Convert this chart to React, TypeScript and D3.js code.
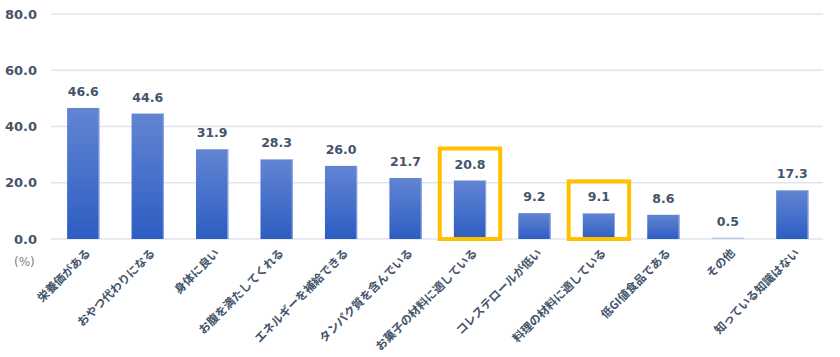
import React from "react";
import * as d3 from "d3";

const categories = [
  "栄養価がある",
  "おやつ代わりになる",
  "身体に良い",
  "お腹を満たしてくれる",
  "エネルギーを補給できる",
  "タンパク質を含んでいる",
  "お菓子の材料に適している",
  "コレステロールが低い",
  "料理の材料に適している",
  "低GI値食品である",
  "その他",
  "知っている知識はない",
];
const values = [46.6, 44.6, 31.9, 28.3, 26.0, 21.7, 20.8, 9.2, 9.1, 8.6, 0.5, 17.3];
const yTicks = [0, 20, 40, 60, 80];
const highlighted = ["お菓子の材料に適している", "料理の材料に適している"];

const W = 840;
const H = 357;
const M = { left: 51, right: 15, top: 14, bottom: 118 };

export default function App() {
  const x = d3
    .scaleBand<string>()
    .domain(categories)
    .range([M.left, W - M.right - 0.5])
    .paddingInner(0.5)
    .paddingOuter(0.25);
  const y = d3.scaleLinear().domain([0, 80]).range([H - M.bottom, M.top]);
  const font = "'Noto Sans CJK JP', 'Noto Sans', sans-serif";
  const textColor = "#44546A";
  const bw = x.bandwidth();
  const step = x.step();

  return (
    <svg
      width={W}
      height={H}
      style={{ position: "absolute", left: 0, top: 0, background: "#fff" }}
      fontFamily={font}
    >
      <defs>
        <linearGradient id="barGrad" x1="0" y1="0" x2="0" y2="1">
          <stop offset="0%" stopColor="#6285D3" />
          <stop offset="100%" stopColor="#2D5DC2" />
        </linearGradient>
      </defs>
      {yTicks.map((t) => (
        <g key={t}>
          <line
            x1={M.left}
            x2={W - M.right - 2}
            y1={y(t)}
            y2={y(t)}
            stroke="#E1E5EB"
            strokeWidth={1.5}
          />
          <text
            x={37}
            y={y(t)}
            dy="0.35em"
            textAnchor="end"
            fontSize={13}
            fontWeight={700}
            fill={textColor}
            fontFamily="Verdana, 'DejaVu Sans', sans-serif"
          >
            {t.toFixed(1)}
          </text>
        </g>
      ))}
      {categories.map((c, i) => {
        const v = values[i];
        const bx = x(c)!;
        const by = y(v);
        const cx = bx + bw / 2;
        return (
          <g key={c}>
            <rect
              x={bx}
              y={by}
              width={bw}
              height={y(0) - by}
              fill={v < 1 ? "#B4C7EC" : "url(#barGrad)"}
            />
            {v >= 1 && (
              <line
                x1={bx + bw - 0.5}
                x2={bx + bw - 0.5}
                y1={by}
                y2={y(0)}
                stroke="#8EA9E0"
                strokeWidth={1}
              />
            )}
            <text
              x={cx}
              y={by - 12}
              textAnchor="middle"
              fontSize={12.5}
              fontWeight={700}
              fill={textColor}
              fontFamily="Verdana, 'DejaVu Sans', sans-serif"
            >
              {v.toFixed(1)}
            </text>
            <text
              transform={`translate(${cx + 5},${y(0) + 12}) rotate(-45)`}
              textAnchor="end"
              dy="0.35em"
              fontSize={11.5}
              fontWeight={700}
              fill={textColor}
            >
              {c}
            </text>
            {highlighted.includes(c) && (
              <rect
                x={cx - step / 2 + 2}
                y={by - 32}
                width={step - 4}
                height={y(0) - by + 32}
                fill="none"
                stroke="#FFC000"
                strokeWidth={4}
              />
            )}
          </g>
        );
      })}
      <text x={14} y={262} dy="0.35em" fontSize={12} fill="#808080" fontFamily="Verdana, 'DejaVu Sans', sans-serif">
        (%)
      </text>
    </svg>
  );
}
